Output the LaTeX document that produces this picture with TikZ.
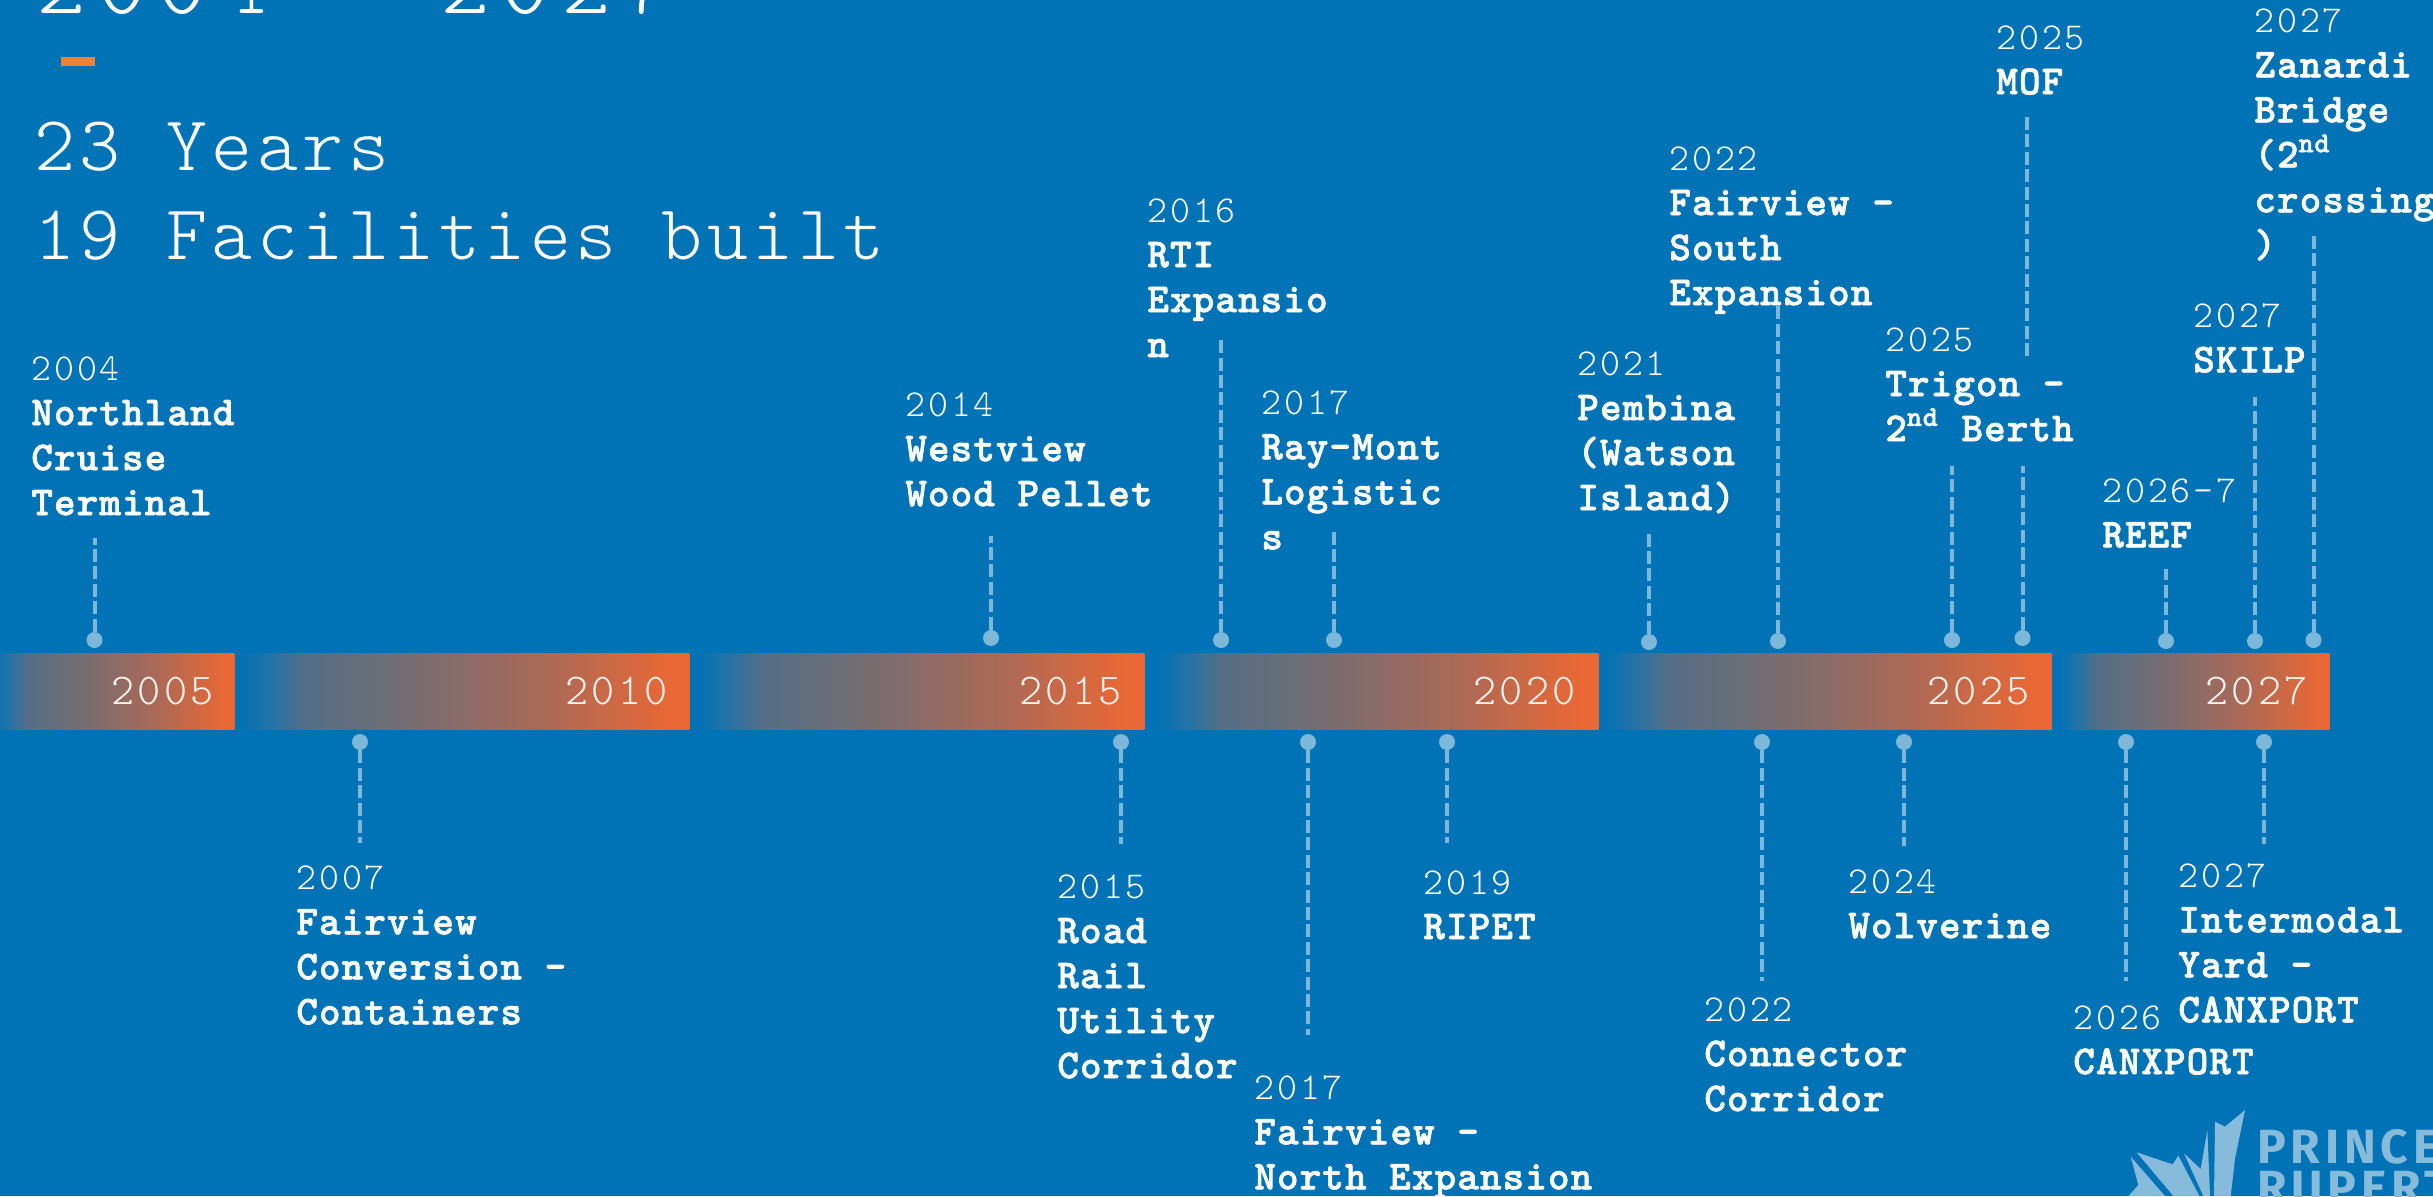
\documentclass[tikz,border=0pt]{standalone}
\usepackage{fontspec}
\setmainfont{Liberation Mono}
\newfontfamily\lightf[LetterSpace=7.5]{lmmonolt10-regular.otf}
\newfontfamily\bigf[LetterSpace=5.8]{lmmonolt10-regular.otf}
\newfontfamily\titlef[LetterSpace=11.5]{lmmonolt10-regular.otf}
\newfontfamily\boldf[LetterSpace=2.8,FakeBold=1.6]{lmmonolt10-bold.otf}
\newfontfamily\logof[LetterSpace=10]{Fira Sans}
\definecolor{bg}{RGB}{0,114,182}
\definecolor{orng}{RGB}{233,104,53}
\definecolor{lb}{RGB}{125,183,217}
\definecolor{accentc}{RGB}{240,130,50}
\definecolor{logoc}{RGB}{135,187,219}
\pgfdeclarehorizontalshading{barsh}{100bp}{
 rgb(0bp)=(0,.447,.714); rgb(25bp)=(0,.447,.714);
 rgb(29bp)=(.157,.451,.647); rgb(32.5bp)=(.333,.431,.529); rgb(40bp)=(.412,.431,.47);
 rgb(47.5bp)=(.51,.424,.424); rgb(60bp)=(.686,.412,.333); rgb(73bp)=(.914,.408,.208);
 rgb(100bp)=(.914,.408,.208)}
\tikzset{x=0.5pt,y=-0.5pt,
 seg/.style={draw=none,inner sep=0,shading=barsh,anchor=north west,minimum height=38pt},
 yr/.style={anchor=east,inner sep=0,text=white!92!orng,font=\lightf\fontsize{22}{22}\selectfont},
 dotn/.style={circle,fill=lb,inner sep=0,minimum size=8pt},
 conn/.style={draw=lb,line width=2pt,dash pattern=on 6.5pt off 2.2pt},
 lab/.style={anchor=north west,inner sep=0,align=left,text=white,font=\boldf\fontsize{20.5}{22.5}\selectfont},
 big/.style={anchor=base west,inner sep=0,text=white,font=\bigf\fontsize{39}{39}\selectfont},
 logot/.style={anchor=base west,inner sep=0,text=logoc,font=\logof\bfseries\fontsize{24}{24}\selectfont}}
\newcommand{\yy}[1]{{\lightf\fontsize{19}{22.5}\selectfont #1}}
\begin{document}
\begin{tikzpicture}
\useasboundingbox[fill=bg] (0,0) rectangle (2433,1196);
\clip (0,0) rectangle (2433,1196);
% title
\node[big,font=\titlef\fontsize{47.5}{47.5}\selectfont] (title) at (36,13) {2004 – 2027};
\node[fill=accentc,inner sep=0,minimum width=17pt,minimum height=4.5pt,anchor=north west] (accent) at (61,57) {};
\node[big] (years) at (34,170) {23 Years};
\node[big] (built) at (34,259) {19 Facilities built};
% bars
\node[seg,minimum width=122pt] (s1) at (-10,653) {};
\node[seg,minimum width=225.5pt] (s2) at (238,653) {};
\node[seg,minimum width=224.5pt] (s3) at (695,653) {};
\node[seg,minimum width=221.5pt] (s4) at (1155,653) {};
\node[seg,minimum width=225pt] (s5) at (1601,653) {};
\node[seg,minimum width=135.5pt] (s6) at (2058,653) {};
\node[yr] (y1) at (214,691) {2005};
\node[yr] (y2) at (668,691) {2010};
\node[yr] (y3) at (1122,691) {2015};
\node[yr] (y4) at (1576,691) {2020};
\node[yr] (y5) at (2030,691) {2025};
\node[yr] (y6) at (2308,691) {2027};
% dots and connectors above
\foreach \n/\x/\yd/\yt in {a/94.5/640/538,b/991/638/536,c/1221/640/338,d/1334/640/528,e/1649/642/531,f/1778/641/303,g/1952/640/466,h/2022.5/638/466,i/2166/641/569,j/2255/641/397,k/2313.5/640/236}{
 \node[dotn] (d\n) at (\x,\yd) {};
 \coordinate (t\n) at (\x,\yt);
 \draw[conn] (d\n) -- (t\n);
}
\coordinate (mofa) at (2026.5,117);
\coordinate (mofb) at (2026.5,356);
\draw[conn] (mofa) -- (mofb);
% below
\foreach \n/\x/\yb in {p/360/843,q/1121/844,r/1308/1035,s/1447/843,t/1762/981,u/1904/846,v/2126/981,w/2264/844}{
 \node[dotn] (d\n) at (\x,742) {};
 \coordinate (t\n) at (\x,\yb);
 \draw[conn] (d\n) -- (t\n);
}
% labels
\node[lab] (l1) at (31,356) {\yy{2004}\\Northland\\Cruise\\Terminal};
\node[lab] (l2) at (905,392) {\yy{2014}\\Westview\\Wood Pellet};
\node[lab] (l3) at (1147,198) {\yy{2016}\\RTI\\Expansio\\n};
\node[lab] (l4) at (1261,390) {\yy{2017}\\Ray-Mont\\Logistic\\s};
\node[lab] (l5) at (1577,351) {\yy{2021}\\Pembina\\(Watson\\Island)};
\node[lab] (l6) at (1669,146) {\yy{2022}\\Fairview –\\South\\Expansion};
\node[lab] (l7) at (1885,327) {\yy{2025}\\Trigon –\\2\textsuperscript{nd} Berth};
\node[lab] (l8) at (1996,25) {\yy{2025}\\MOF};
\node[lab] (l9) at (2102,478) {\yy{2026-7}\\REEF};
\node[lab] (l10) at (2193,303) {\yy{2027}\\SKILP};
\node[lab] (l11) at (2254,8) {\yy{2027}\\Zanardi\\Bridge\\(2\textsuperscript{nd}\\crossing\\)};
\node[lab] (l12) at (296,865) {\yy{2007}\\Fairview\\Conversion -\\Containers};
\node[lab] (l13) at (1057,874) {\yy{2015}\\Road\\Rail\\Utility\\Corridor};
\node[lab] (l14) at (1254,1075) {\yy{2017}\\Fairview –\\North Expansion};
\node[lab] (l15) at (1423,870) {\yy{2019}\\RIPET};
\node[lab] (l16) at (1704,997) {\yy{2022}\\Connector\\Corridor};
\node[lab] (l17) at (1848,869) {\yy{2024}\\Wolverine};
\node[lab] (l18) at (2073,1005) {\yy{2026}\\CANXPORT};
\node[lab] (l19) at (2178,863) {\yy{2027}\\Intermodal\\Yard -\\CANXPORT};
% logo
\begin{scope}[shift={(2110,1095)},x=0.1667pt,y=-0.1667pt]
 \fill[logoc] (62,185) -- (165,303) -- (55,303) -- (85,270) -- cycle;
 \fill[logoc] (80,172) -- (188,208) -- (205,182) -- (268,303) -- (190,303) -- cycle;
 \fill[logoc] (222,175) -- (272,222) -- (292,105) -- (300,303) -- (280,303) -- cycle;
 \fill[logoc] (315,80) -- (345,95) -- (405,45) -- (375,190) -- (362,303) -- (312,303) -- cycle;
\end{scope}
\node[logot] (prince) at (2257,1163) {PRINCE};
\node[logot] (rupert) at (2257,1204) {RUPERT};
\end{tikzpicture}
\end{document}
